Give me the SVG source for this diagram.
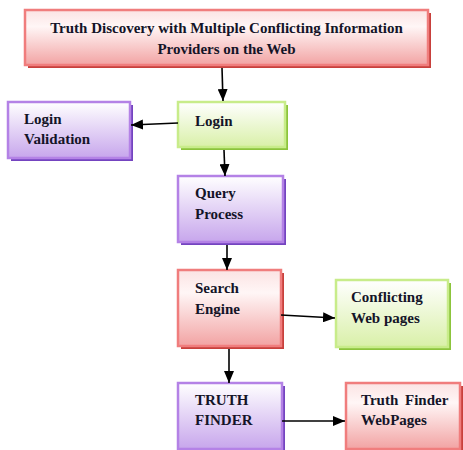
<svg xmlns="http://www.w3.org/2000/svg" width="463" height="450" viewBox="0 0 463 450">
<defs>
<linearGradient id="gRed" x1="0" y1="0" x2="0" y2="1">
<stop offset="0" stop-color="#fbe3e3"/><stop offset="0.3" stop-color="#fff6f6"/><stop offset="1" stop-color="#f2a3a3"/>
</linearGradient>
<linearGradient id="gGreen" x1="0" y1="0" x2="0" y2="1">
<stop offset="0" stop-color="#ffffff"/><stop offset="1" stop-color="#d9f0a8"/>
</linearGradient>
<linearGradient id="gPurple" x1="0" y1="0" x2="0" y2="1">
<stop offset="0" stop-color="#ffffff"/><stop offset="1" stop-color="#c7a6ec"/>
</linearGradient>
<marker id="ah" viewBox="0 0 12 10" refX="12" refY="5" markerWidth="12" markerHeight="10" markerUnits="userSpaceOnUse" orient="auto">
<path d="M0,0 L12,5 L0,10 z" fill="#000"/>
</marker>
</defs>
<style>
.red{fill:url(#gRed);stroke:#f07d7d;stroke-width:2.5}
.redS{fill:#c8403c}
.green{fill:url(#gGreen);stroke:#c8ec8a;stroke-width:2.5}
.greenS{fill:#8cc43c}
.purple{fill:url(#gPurple);stroke:#b482e6;stroke-width:2.5}
.purpleS{fill:#7444c0}
text{font-family:"Liberation Serif","Times New Roman",serif;font-weight:bold;font-size:15px;fill:#141428}
.c line{stroke:#000;stroke-width:1.6;marker-end:url(#ah)}
</style>
<g id="title">
<rect class="redS" x="28" y="13" width="403" height="55"/>
<rect class="red" x="25" y="10" width="403" height="55"/>
<text x="226.5" y="33" text-anchor="middle">Truth Discovery with Multiple Conflicting Information</text>
<text x="226.5" y="54" text-anchor="middle">Providers on the Web</text>
</g>
<g id="login">
<rect class="greenS" x="181" y="105" width="107" height="45"/>
<rect class="green" x="178" y="102" width="107" height="45"/>
<text x="195" y="126">Login</text>
</g>
<g id="loginValidation">
<rect class="purpleS" x="11" y="105" width="122" height="56"/>
<rect class="purple" x="8" y="102" width="122" height="56"/>
<text x="24" y="124">Login</text>
<text x="24" y="144">Validation</text>
</g>
<g id="query">
<rect class="purpleS" x="181" y="179" width="105" height="66"/>
<rect class="purple" x="178" y="176" width="105" height="66"/>
<text x="195" y="198">Query</text>
<text x="195" y="219">Process</text>
</g>
<g id="search">
<rect class="redS" x="181" y="273" width="103" height="76"/>
<rect class="red" x="178" y="270" width="103" height="76"/>
<text x="195" y="293">Search</text>
<text x="195" y="314">Engine</text>
</g>
<g id="conflicting">
<rect class="greenS" x="339" y="283" width="112" height="67"/>
<rect class="green" x="336" y="280" width="112" height="67"/>
<text x="351" y="302">Conflicting</text>
<text x="351" y="323">Web pages</text>
</g>
<g id="truthFinder">
<rect class="purpleS" x="181" y="386" width="104" height="66"/>
<rect class="purple" x="178" y="383" width="104" height="66"/>
<text x="195" y="405">TRUTH</text>
<text x="195" y="425">FINDER</text>
</g>
<g id="truthFinderWebPages">
<rect class="redS" x="349" y="386" width="114" height="66"/>
<rect class="red" x="346" y="383" width="114" height="66"/>
<text x="361" y="405" word-spacing="3">Truth Finder</text>
<text x="361" y="425">WebPages</text>
</g>
<g class="c" id="connectors">
<line x1="222" y1="68" x2="223" y2="101"/>
<line x1="178" y1="123" x2="131" y2="125"/>
<line x1="224" y1="150" x2="225" y2="176"/>
<line x1="227" y1="245" x2="227" y2="270"/>
<line x1="281" y1="315" x2="335" y2="318"/>
<line x1="229" y1="349" x2="229" y2="383"/>
<line x1="282" y1="421" x2="345" y2="421"/>
</g>
</svg>
